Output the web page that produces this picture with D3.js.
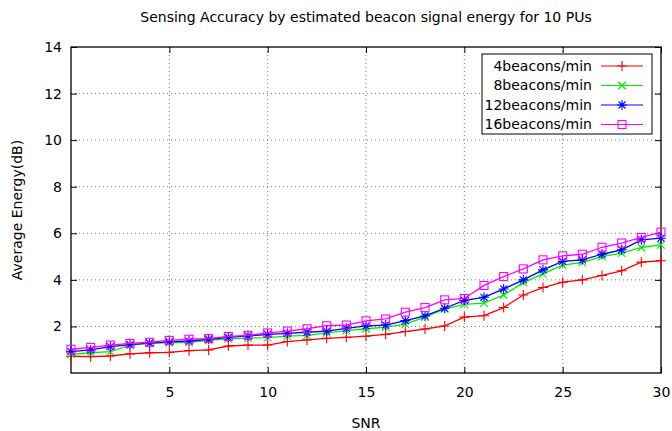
<!DOCTYPE html>
<html>
<head>
<meta charset="utf-8">
<script src="https://cdn.jsdelivr.net/npm/d3@7"></script>
<style>
  body { margin: 0; background: #fff; }
  svg text { font-family: "DejaVu Sans", sans-serif; fill: #000; }
</style>
</head>
<body>
<div class="chart"></div>
<script>
// data
const snr = d3.range(0, 31);
const xTicks = [5, 10, 15, 20, 25, 30];
const yTicks = [2, 4, 6, 8, 10, 12, 14];
const seriesNames = ['4beacons/min', '8beacons/min', '12beacons/min', '16beacons/min'];
const b4 = [0.72, 0.7, 0.73, 0.82, 0.87, 0.89, 0.96, 0.99, 1.16, 1.2, 1.2, 1.35, 1.42, 1.49, 1.53, 1.58,
            1.66, 1.78, 1.89, 2.02, 2.4, 2.46, 2.81, 3.35, 3.67, 3.9, 4.0, 4.19, 4.39, 4.76, 4.82];
const b8 = [0.8, 0.87, 0.92, 1.2, 1.28, 1.3, 1.32, 1.4, 1.47, 1.5, 1.52, 1.58, 1.62, 1.72, 1.82, 1.9,
            1.97, 2.1, 2.4, 2.75, 2.95, 3.0, 3.35, 3.88, 4.26, 4.63, 4.75, 5.0, 5.15, 5.39, 5.5];
const b12 = [0.92, 0.99, 1.13, 1.22, 1.28, 1.34, 1.37, 1.45, 1.53, 1.59, 1.66, 1.7, 1.75, 1.8, 1.92, 2.02,
             2.06, 2.25, 2.45, 2.78, 3.12, 3.25, 3.61, 4.0, 4.43, 4.79, 4.86, 5.1, 5.29, 5.72, 5.79];
const b16 = [1.02, 1.1, 1.2, 1.27, 1.32, 1.4, 1.45, 1.48, 1.57, 1.62, 1.72, 1.8, 1.9, 2.03, 2.06, 2.24,
             2.32, 2.61, 2.81, 3.14, 3.2, 3.76, 4.14, 4.47, 4.86, 5.03, 5.1, 5.4, 5.58, 5.82, 6.05];

const colors = ['#ff0000', '#00ee00', '#0000ff', '#ff00ff'];
const markers = ['plus', 'cross', 'star', 'square'];
const allSeries = [b4, b8, b12, b16];

const width = 672, height = 431;
const margin = {top: 47, right: 11, bottom: 58, left: 71};
const innerWidth = width - margin.left - margin.right;
const innerHeight = height - margin.top - margin.bottom;

const svg = d3.select('.chart').append('svg')
  .attr('width', width).attr('height', height);

const xScale = d3.scaleLinear().domain([0, 30]).range([0, innerWidth]);
const yScale = d3.scaleLinear().domain([0, 14]).range([innerHeight, 0]);

const g = svg.append('g').attr('transform', `translate(${margin.left},${margin.top})`);

// grid
g.append('g').selectAll('line').data(xTicks.filter(t => t < 30)).enter().append('line')
  .attr('x1', d => xScale(d)).attr('x2', d => xScale(d))
  .attr('y1', 0).attr('y2', innerHeight)
  .attr('stroke', '#555').attr('stroke-width', 0.8).attr('stroke-dasharray', '1,3');
g.append('g').selectAll('line').data(yTicks.filter(t => t < 14)).enter().append('line')
  .attr('y1', d => yScale(d)).attr('y2', d => yScale(d))
  .attr('x1', 0).attr('x2', innerWidth)
  .attr('stroke', '#555').attr('stroke-width', 0.8).attr('stroke-dasharray', '1,3');

// axes with inward ticks, mirrored on top/right
const xAxis = d3.axisBottom(xScale).tickValues(xTicks).tickSizeInner(-6).tickSizeOuter(0).tickPadding(14);
const yAxis = d3.axisLeft(yScale).tickValues(yTicks).tickSizeInner(-6).tickSizeOuter(0).tickPadding(9);

const gx = g.append('g').attr('transform', `translate(0,${innerHeight})`).call(xAxis);
const gy = g.append('g').call(yAxis);
g.append('g').call(d3.axisTop(xScale).tickValues(xTicks).tickSizeInner(-6).tickSizeOuter(0).tickFormat(''));
g.append('g').attr('transform', `translate(${innerWidth},0)`)
  .call(d3.axisRight(yScale).tickValues(yTicks).tickSizeInner(-6).tickSizeOuter(0).tickFormat(''));

g.selectAll('.domain').remove();
g.selectAll('.tick line').attr('stroke', '#000').attr('stroke-width', 1);
gx.selectAll('text').style('font-size', '14px');
gy.selectAll('text').style('font-size', '14px');

g.append('rect').attr('width', innerWidth).attr('height', innerHeight)
  .attr('fill', 'none').attr('stroke', '#000').attr('stroke-width', 1.3);

// marker drawing
function drawMarker(sel, type, color) {
  const s = 5;
  if (type === 'plus') {
    sel.append('path').attr('d', `M${-s},0H${s}M0,${-s}V${s}`);
  } else if (type === 'cross') {
    sel.append('path').attr('d', `M${-s*0.75},${-s*0.75}L${s*0.75},${s*0.75}M${-s*0.75},${s*0.75}L${s*0.75},${-s*0.75}`);
  } else if (type === 'star') {
    sel.append('path').attr('d', `M${-s},0H${s}M0,${-s}V${s}M${-s*0.7},${-s*0.7}L${s*0.7},${s*0.7}M${-s*0.7},${s*0.7}L${s*0.7},${-s*0.7}`);
  } else {
    sel.append('rect').attr('x', -4).attr('y', -4).attr('width', 8).attr('height', 8).attr('fill', 'none');
  }
  sel.selectAll('path, rect').attr('stroke', color).attr('stroke-width', 1.1);
}

const line = d3.line().x((d, i) => xScale(snr[i])).y(d => yScale(d));

allSeries.forEach(function(vals, k) {
  const sg = g.append('g');
  sg.append('path').datum(vals).attr('d', line)
    .attr('fill', 'none').attr('stroke', colors[k]).attr('stroke-width', 1.3);
  sg.selectAll('g.m').data(vals).enter().append('g').attr('class', 'm')
    .attr('transform', (d, i) => `translate(${xScale(snr[i])},${yScale(d)})`)
    .each(function() { drawMarker(d3.select(this), markers[k], colors[k]); });
});

// legend
const lg = g.append('g').attr('transform', `translate(${innerWidth - 179},7)`);
lg.append('rect').attr('width', 170).attr('height', 80)
  .attr('fill', '#fff').attr('stroke', '#000').attr('stroke-width', 1);
seriesNames.forEach(function(name, k) {
  const yy = 12 + k * 19.5;
  lg.append('text').attr('x', 110).attr('y', yy).attr('dy', '0.35em')
    .attr('text-anchor', 'end').style('font-size', '14px').text(name);
  lg.append('line').attr('x1', 119).attr('x2', 161).attr('y1', yy).attr('y2', yy)
    .attr('stroke', colors[k]).attr('stroke-width', 1.2);
  const mk = lg.append('g').attr('transform', `translate(140,${yy})`);
  drawMarker(mk, markers[k], colors[k]);
});

// titles
svg.append('text').attr('x', margin.left + innerWidth / 2).attr('y', 22)
  .attr('text-anchor', 'middle').style('font-size', '14px')
  .text('Sensing Accuracy by estimated beacon signal energy for 10 PUs');
svg.append('text').attr('x', margin.left + innerWidth / 2).attr('y', 428)
  .attr('text-anchor', 'middle').style('font-size', '14px').text('SNR');
svg.append('text').attr('transform', `translate(22,${margin.top + innerHeight / 2}) rotate(-90)`)
  .attr('text-anchor', 'middle').style('font-size', '14px').text('Average Energy(dB)');
</script>
</body>
</html>
